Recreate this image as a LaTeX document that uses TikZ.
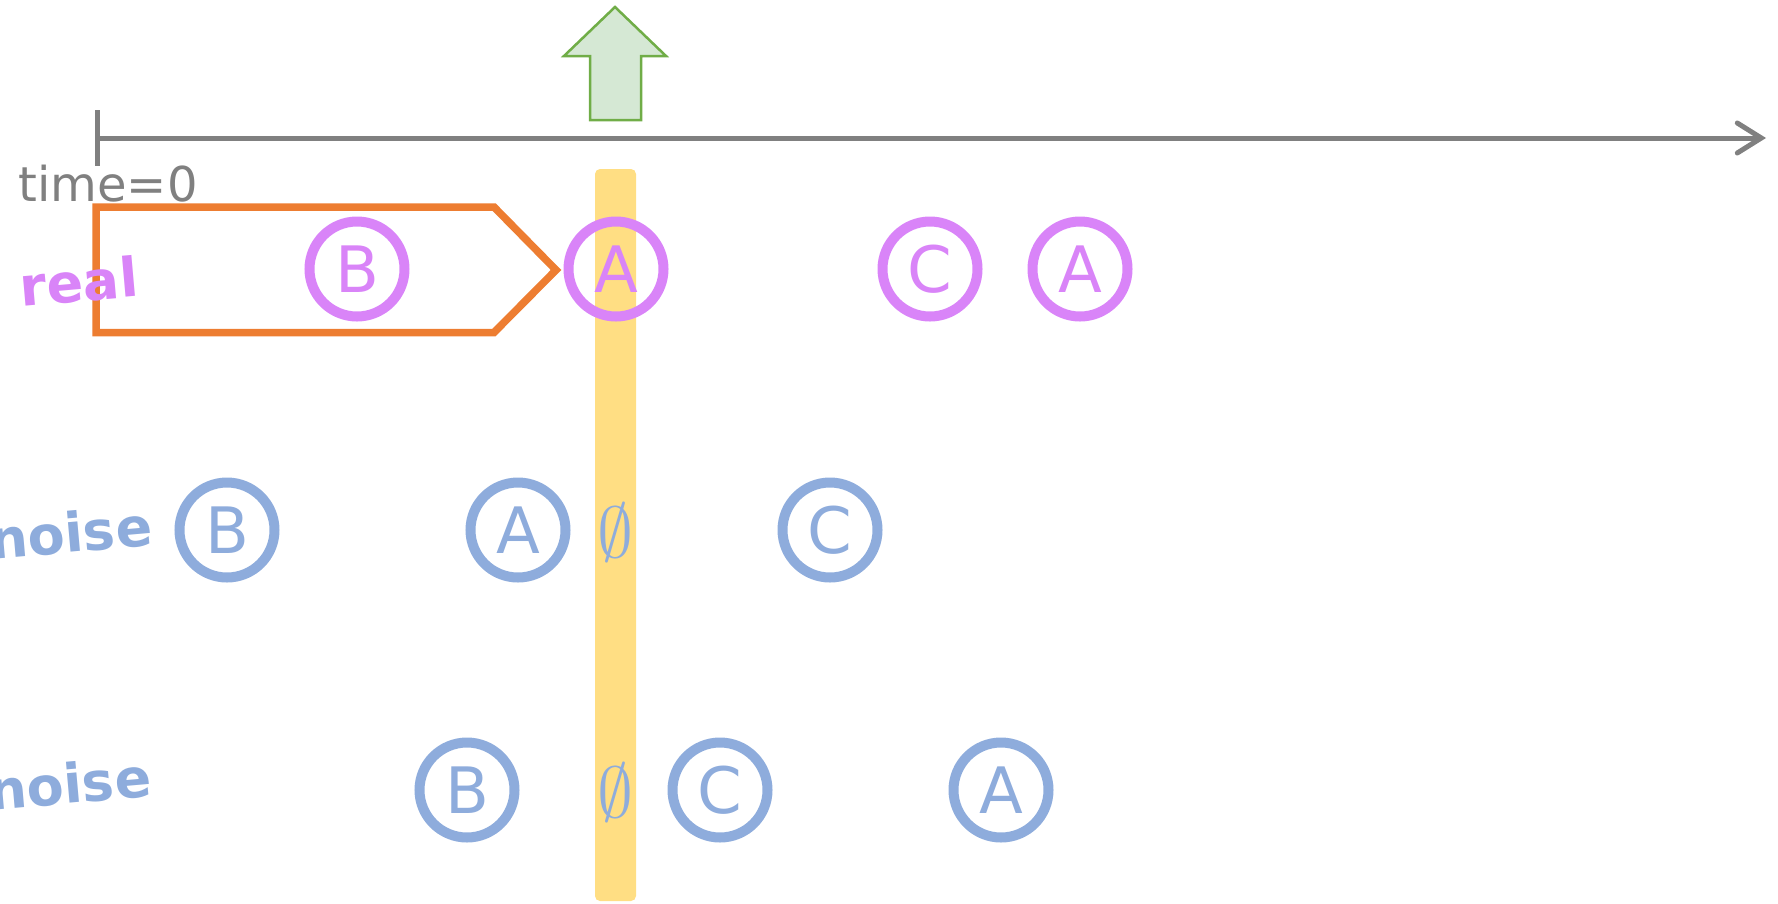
\documentclass[tikz,border=0pt]{standalone}
\usepackage{fontspec}
\setmainfont{DejaVu Sans}
\usetikzlibrary{positioning,arrows.meta}
\definecolor{realviolet}{HTML}{D984F8}
\definecolor{noiseblue}{HTML}{8EACDC}
\definecolor{axisgray}{HTML}{808080}
\definecolor{winorange}{HTML}{ED7D31}
\definecolor{baryellow}{HTML}{FFDE83}
\definecolor{upgreen}{HTML}{D5E8D4}
\definecolor{upgreendraw}{HTML}{70AD47}
\newcommand{\noslot}{\scalebox{7.2}{$\emptyset$}}
\tikzset{%
  event/.style={
    circle,
    draw,
    line width=10pt,
    minimum size=95pt,
    inner sep=0pt,
    font=\fontsize{64}{64}\selectfont
  },
  real event/.style={event, draw=realviolet, text=realviolet},
  noise event/.style={event, draw=noiseblue, text=noiseblue},
  row label/.style={
    font=\bfseries\fontsize{54}{54}\selectfont,
    rotate=5,
    anchor=base east
  },
  empty slot/.style={text=noiseblue, inner sep=0pt},
}

\begin{document}
\begin{tikzpicture}[x=1pt,y=-1pt,>=latex]
      \tikzstyle{axis}=[axisgray,line width=5pt]
      \useasboundingbox (0,0) rectangle (1778,903);

      % window marker and upward arrow
      \fill[baryellow,rounded corners=5pt] (595,169) rectangle (636,901);
      \draw[upgreendraw,fill=upgreen,line width=2.5pt] (615,7) -- (666,56) -- (641,56)
            -- (641,120) -- (590,120) -- (590,56) -- (564,56) -- cycle;

      % time axis
      \coordinate (t0) at (97,138);
      \coordinate (tend) at (1766,138);
      \draw[axis,-{Straight Barb[length=24pt,width=30pt,line cap=round]}] (t0) -- (tend);
      \draw[axis] (97,110) -- (97,166);
      \node[text=axisgray,font=\fontsize{48}{48}\selectfont,anchor=base] (tlabel) at (108,201) {time=0};

      % past window
      \draw[winorange,line width=7.5pt] (96,207) -- (494,207) -- (556,270) -- (494,332.5)
            -- (96,332.5) -- cycle;

      % real row
      \node[row label,text=realviolet] (lreal) at (143,296) {real};
      \node[real event] (rB) at (357,269) {B};
      \node[real event] (rA) at (616,269) {A};
      \node[real event] (rC) at (930,269) {C};
      \node[real event] (rA2) at (1080,269) {A};

      % first noise row
      \node[row label,text=noiseblue] (lnoise1) at (157,545) {noise};
      \node[noise event] (aB) at (227,530) {B};
      \node[noise event] (aA) at (518,530) {A};
      \node[empty slot] (aempty) at (615,532) {\noslot};
      \node[noise event] (aC) at (830,530) {C};

      % second noise row
      \node[row label,text=noiseblue] (lnoise2) at (156,796) {noise};
      \node[noise event] (bB) at (467,790) {B};
      \node[empty slot] (bempty) at (615,792) {\noslot};
      \node[noise event] (bC) at (720,790) {C};
      \node[noise event] (bA) at (1001,790) {A};
  \end{tikzpicture}
\end{document}
